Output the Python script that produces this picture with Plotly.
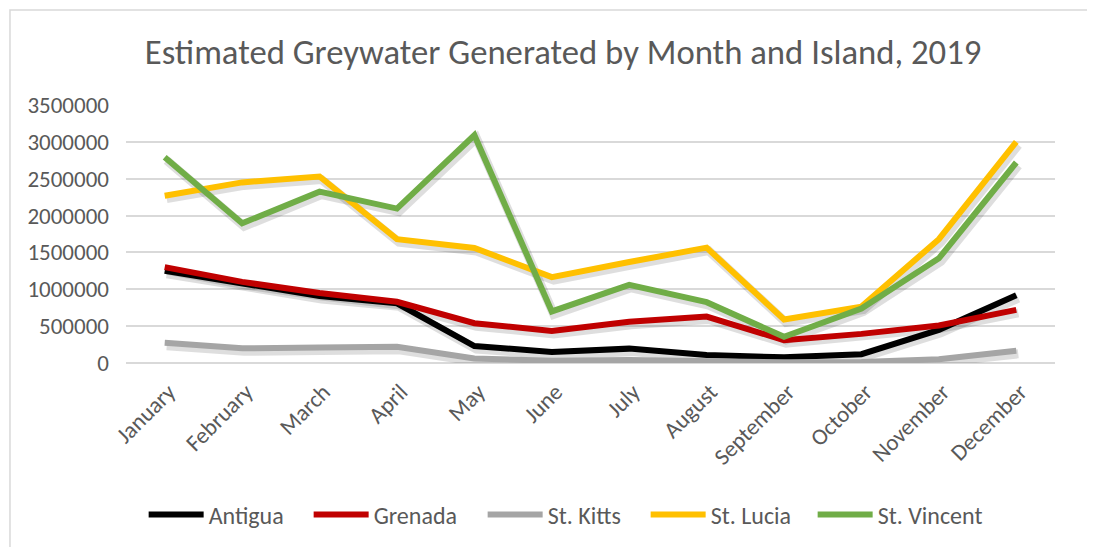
import plotly.graph_objects as go

months = ["January", "February", "March", "April", "May", "June", "July",
          "August", "September", "October", "November", "December"]
antigua = [1250000, 1090000, 910000, 810000, 230000, 150000, 195000, 108000, 77000, 120000, 450000, 920000]
grenada = [1300000, 1100000, 950000, 830000, 540000, 435000, 560000, 630000, 310000, 395000, 510000, 720000]
st_kitts = [275000, 200000, 210000, 220000, 60000, 30000, 40000, 15000, 10000, 15000, 50000, 165000]
st_lucia = [2270000, 2450000, 2530000, 1680000, 1560000, 1165000, 1370000, 1565000, 590000, 765000, 1680000, 3000000]
st_vincent = [2790000, 1895000, 2325000, 2095000, 3090000, 700000, 1060000, 825000, 355000, 740000, 1420000, 2720000]

series = [
    ("Antigua", antigua, "#000000", 95),
    ("Grenada", grenada, "#C00000", 104),
    ("St. Kitts", st_kitts, "#A5A5A5", 93),
    ("St. Lucia", st_lucia, "#FFC000", 97),
    ("St. Vincent", st_vincent, "#70AD47", 110),
]

FONT = "Carlito, Calibri, Lato, sans-serif"
TXT = "#595959"
Y_MAX = 3500000
PLOT_H = 258.0   # px height of plot area
PLOT_W = 929.0   # px width of plot area
SH_DY = 3 * Y_MAX / PLOT_H            # shadow 3px down
SH_DX = 2 * len(months) / PLOT_W      # shadow 2px right

fig = go.Figure()
# soft drop shadows (Excel style) on hidden, slightly shifted axes
for name, vals, color, lw in series:
    fig.add_trace(go.Scatter(
        x=months, y=vals, mode="lines", showlegend=False, hoverinfo="skip",
        line=dict(color="rgba(0,0,0,0.13)", width=9),
        xaxis="x", yaxis="y",
    ))
# the series themselves
for name, vals, color, lw in series:
    fig.add_trace(go.Scatter(
        x=months, y=vals, name=name, mode="lines",
        line=dict(color=color, width=6), legendwidth=lw,
        xaxis="x2", yaxis="y2",
    ))

# page has an 8px body margin: figure is 1087x539 placed at (8, 8)
fig.update_layout(
    width=1087, height=539,
    margin=dict(l=118, r=40, t=97, b=184, autoexpand=False),
    paper_bgcolor="white", plot_bgcolor="white",
    font=dict(family=FONT, color=TXT, size=23),
    title=dict(
        text="Estimated Greywater Generated by Month and Island, 2019",
        x=0.5106, xref="container", xanchor="center",
        y=0.918, yref="container", yanchor="middle",
        font=dict(family=FONT, size=34.7, color=TXT),
    ),
    showlegend=True,
    legend=dict(
        orientation="h", x=0.019, xanchor="left", y=-0.589, yanchor="middle",
        font=dict(family=FONT, size=24, color=TXT),
        itemwidth=55, bgcolor="rgba(0,0,0,0)",
    ),
    xaxis=dict(
        type="category", visible=False, showgrid=False, zeroline=False,
        range=[-0.5 - SH_DX, 11.5 - SH_DX],
    ),
    yaxis=dict(
        visible=False, showgrid=False, zeroline=False,
        range=[SH_DY, Y_MAX + SH_DY],
    ),
    xaxis2=dict(
        type="category", overlaying="x", anchor="y2", side="bottom",
        showgrid=False, zeroline=False, showline=False,
        ticks="", tickangle=-45, ticklabelstandoff=10, ticklabelshift=4,
        tickfont=dict(family=FONT, size=23, color=TXT),
        range=[-0.5, 11.5],
    ),
    yaxis2=dict(
        overlaying="y", anchor="x2", side="left",
        range=[0, Y_MAX], dtick=500000, tick0=0, tickformat="d",
        showgrid=True, gridcolor="#D9D9D9", gridwidth=1.5,
        zeroline=True, zerolinecolor="#D9D9D9", zerolinewidth=1.5,
        showline=False, ticks="", ticklabelstandoff=16,
        tickfont=dict(family=FONT, size=23, color=TXT),
    ),
    shapes=[dict(
        type="rect", xref="paper", yref="paper",
        x0=-0.1249, x1=2.0, y0=-2.0, y1=1.368,
        line=dict(color="#D9D9D9", width=1.5), fillcolor="rgba(0,0,0,0)",
        layer="below",
    )],
)

fig.write_html("out.html")
